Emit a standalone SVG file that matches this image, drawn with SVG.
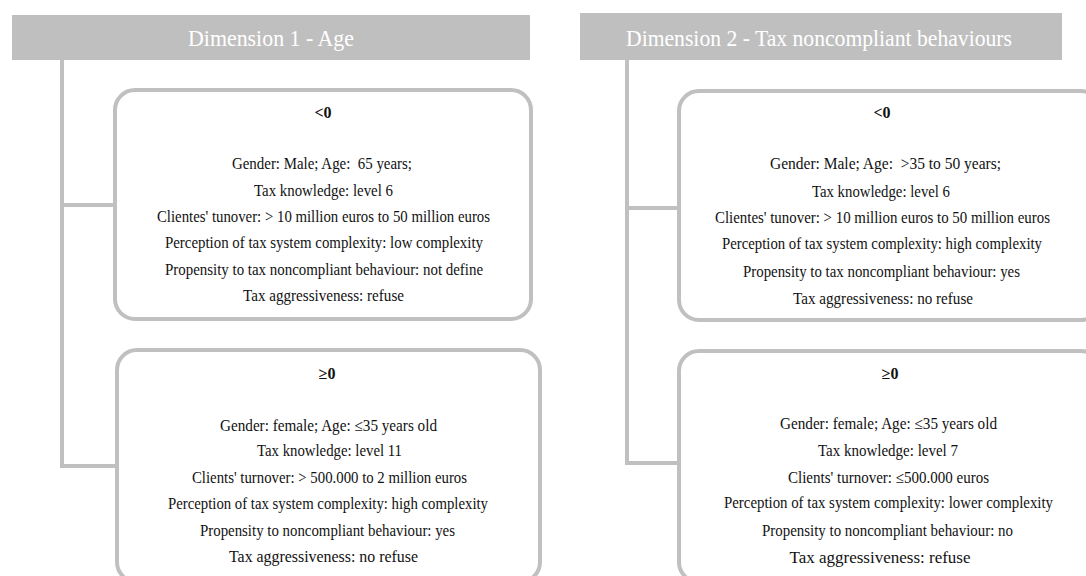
<svg xmlns="http://www.w3.org/2000/svg" width="1086" height="576" viewBox="0 0 1086 576">
<style>
.hdr{fill:#bfbfbf}
.htxt{font-family:"Liberation Serif","Times New Roman",serif;font-size:23px;fill:#ffffff;text-anchor:middle}
.box{fill:#ffffff;stroke:#c0c0c0;stroke-width:4}
.conn{fill:none;stroke:#c0c0c0;stroke-width:4}
.t{font-family:"Liberation Serif","Times New Roman",serif;font-size:16px;fill:#111111;text-anchor:middle}
.b{font-family:"Liberation Serif","Times New Roman",serif;font-size:16px;font-weight:bold;fill:#111111;text-anchor:middle}
</style>
<rect width="1086" height="576" fill="#ffffff"/>
<g id="connectors">
<path class="conn" d="M62 60 V466 H117"/>
<path class="conn" d="M62 205 H115"/>
<path class="conn" d="M627 60 V463 H679"/>
<path class="conn" d="M627 208 H679"/>
</g>
<g id="header1">
<rect class="hdr" x="12" y="15" width="518" height="45"/>
<text class="htxt" x="271" y="46" textLength="166" lengthAdjust="spacingAndGlyphs">Dimension 1 - Age</text>
</g>
<g id="header2">
<rect class="hdr" x="580" y="13" width="482" height="47"/>
<text class="htxt" x="819" y="46" textLength="386" lengthAdjust="spacingAndGlyphs">Dimension 2 - Tax noncompliant behaviours</text>
</g>
<g id="box1-lt0">
<rect class="box" x="115" y="90" width="416" height="229" rx="20"/>
<text class="b" x="323" y="118">&lt;0</text>
<text class="t" x="322" y="169" textLength="180" lengthAdjust="spacingAndGlyphs">Gender: Male; Age:&#160; 65 years;</text>
<text class="t" x="323.5" y="196" textLength="139" lengthAdjust="spacingAndGlyphs">Tax knowledge: level 6</text>
<text class="t" x="323.5" y="222" textLength="333" lengthAdjust="spacingAndGlyphs">Clientes' tunover: &gt; 10 million euros to 50 million euros</text>
<text class="t" x="324" y="248" textLength="318" lengthAdjust="spacingAndGlyphs">Perception of tax system complexity: low complexity</text>
<text class="t" x="324" y="275" textLength="318" lengthAdjust="spacingAndGlyphs">Propensity to tax noncompliant behaviour: not define</text>
<text class="t" x="323.5" y="301" textLength="161" lengthAdjust="spacingAndGlyphs">Tax aggressiveness: refuse</text>
</g>
<g id="box1-ge0">
<rect class="box" x="117" y="350" width="423" height="232" rx="20"/>
<text class="b" x="327" y="379">≥0</text>
<text class="t" x="328.5" y="431" textLength="217" lengthAdjust="spacingAndGlyphs">Gender: female; Age: ≤35 years old</text>
<text class="t" x="329.5" y="456" textLength="145" lengthAdjust="spacingAndGlyphs">Tax knowledge: level 11</text>
<text class="t" x="329.5" y="483" textLength="275" lengthAdjust="spacingAndGlyphs">Clients' turnover: &gt; 500.000 to 2 million euros</text>
<text class="t" x="328" y="509" textLength="320" lengthAdjust="spacingAndGlyphs">Perception of tax system complexity: high complexity</text>
<text class="t" x="327.5" y="536" textLength="255" lengthAdjust="spacingAndGlyphs">Propensity to noncompliant behaviour: yes</text>
<text class="t" x="323.5" y="562" textLength="189" lengthAdjust="spacingAndGlyphs">Tax aggressiveness: no refuse</text>
</g>
<g id="box2-lt0">
<rect class="box" x="679" y="91" width="422" height="229" rx="20"/>
<text class="b" x="882" y="118">&lt;0</text>
<text class="t" x="885.5" y="169" textLength="231" lengthAdjust="spacingAndGlyphs">Gender: Male; Age:&#160; &gt;35 to 50 years;</text>
<text class="t" x="881" y="197" textLength="138" lengthAdjust="spacingAndGlyphs">Tax knowledge: level 6</text>
<text class="t" x="882.5" y="223" textLength="335" lengthAdjust="spacingAndGlyphs">Clientes' tunover: &gt; 10 million euros to 50 million euros</text>
<text class="t" x="882" y="249" textLength="320" lengthAdjust="spacingAndGlyphs">Perception of tax system complexity: high complexity</text>
<text class="t" x="881.5" y="277" textLength="277" lengthAdjust="spacingAndGlyphs">Propensity to tax noncompliant behaviour: yes</text>
<text class="t" x="883" y="304" textLength="180" lengthAdjust="spacingAndGlyphs">Tax aggressiveness: no refuse</text>
</g>
<g id="box2-ge0">
<rect class="box" x="679" y="351" width="422" height="231" rx="20"/>
<text class="b" x="890" y="379">≥0</text>
<text class="t" x="888.5" y="429" textLength="217" lengthAdjust="spacingAndGlyphs">Gender: female; Age: ≤35 years old</text>
<text class="t" x="888" y="456" textLength="140" lengthAdjust="spacingAndGlyphs">Tax knowledge: level 7</text>
<text class="t" x="888.5" y="483" textLength="201" lengthAdjust="spacingAndGlyphs">Clients' turnover: ≤500.000 euros</text>
<text class="t" x="888.5" y="508" textLength="329" lengthAdjust="spacingAndGlyphs">Perception of tax system complexity: lower complexity</text>
<text class="t" x="887.5" y="536" textLength="251" lengthAdjust="spacingAndGlyphs">Propensity to noncompliant behaviour: no</text>
<text class="t" x="880" y="563" textLength="181" lengthAdjust="spacingAndGlyphs">Tax aggressiveness: refuse</text>
</g>
</svg>
